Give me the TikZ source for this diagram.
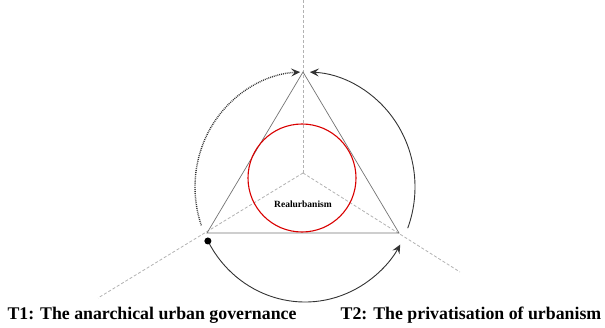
\documentclass[tikz,border=0pt]{standalone}
\usepackage{fontspec}
\setmainfont{Liberation Serif}
\usetikzlibrary{arrows.meta}

\begin{document}
\begin{tikzpicture}[x=1pt, y=1pt,
    guide/.style={densely dashed, gray!60, line width=0.8pt},
    side/.style={gray!90!black, line width=0.7pt},
    loop/.style={black!80, line width=0.9pt},
    tip/.style={-{Stealth[length=9pt, width=8pt, inset=3.5pt]}},
    label/.style={font=\fontsize{17.8}{20}\selectfont\bfseries}]
    \useasboundingbox (0, 0) rectangle (605, 327);
    \coordinate (ctr) at (303, 154);
    \coordinate (top) at (303, 255);
    \coordinate (bl) at (207, 94);
    \coordinate (br) at (399, 94);
    \coordinate (o) at (305, 140);
    \draw[guide] (ctr) -- (303, 327);
    \draw[guide] (ctr) -- (98, 29);
    \draw[guide] (ctr) -- (460, 55);
    \draw[side] (top) -- (bl) -- (br) -- cycle;
    \draw[red!85!black, line width=1.1pt] (302, 149) circle (54);
    \node (core) at (303, 123) {\fontsize{9.5}{11}\selectfont\bfseries Realurbanism};
    \draw[loop, densely dotted, line width=1.4pt, tip] (o) ++(199.5:110 and 115)
	arc [start angle=199.5, end angle=92.5, x radius=110, y radius=115];
    \draw[loop, tip] (o) ++(-21:110 and 115)
	arc [start angle=-21, end angle=87.5, x radius=110, y radius=115];
    \draw[loop, tip] (o) ++(208:110 and 115)
	arc [start angle=208, end angle=330, x radius=110, y radius=115];
    \fill (o) ++(208:110 and 115) circle (3.5);
    \node[label] (t1) at (152, 12) {T1: The anarchical urban governance};
    \node[label] (t2) at (471, 12) {T2: The privatisation of urbanism};
\end{tikzpicture}
\end{document}
